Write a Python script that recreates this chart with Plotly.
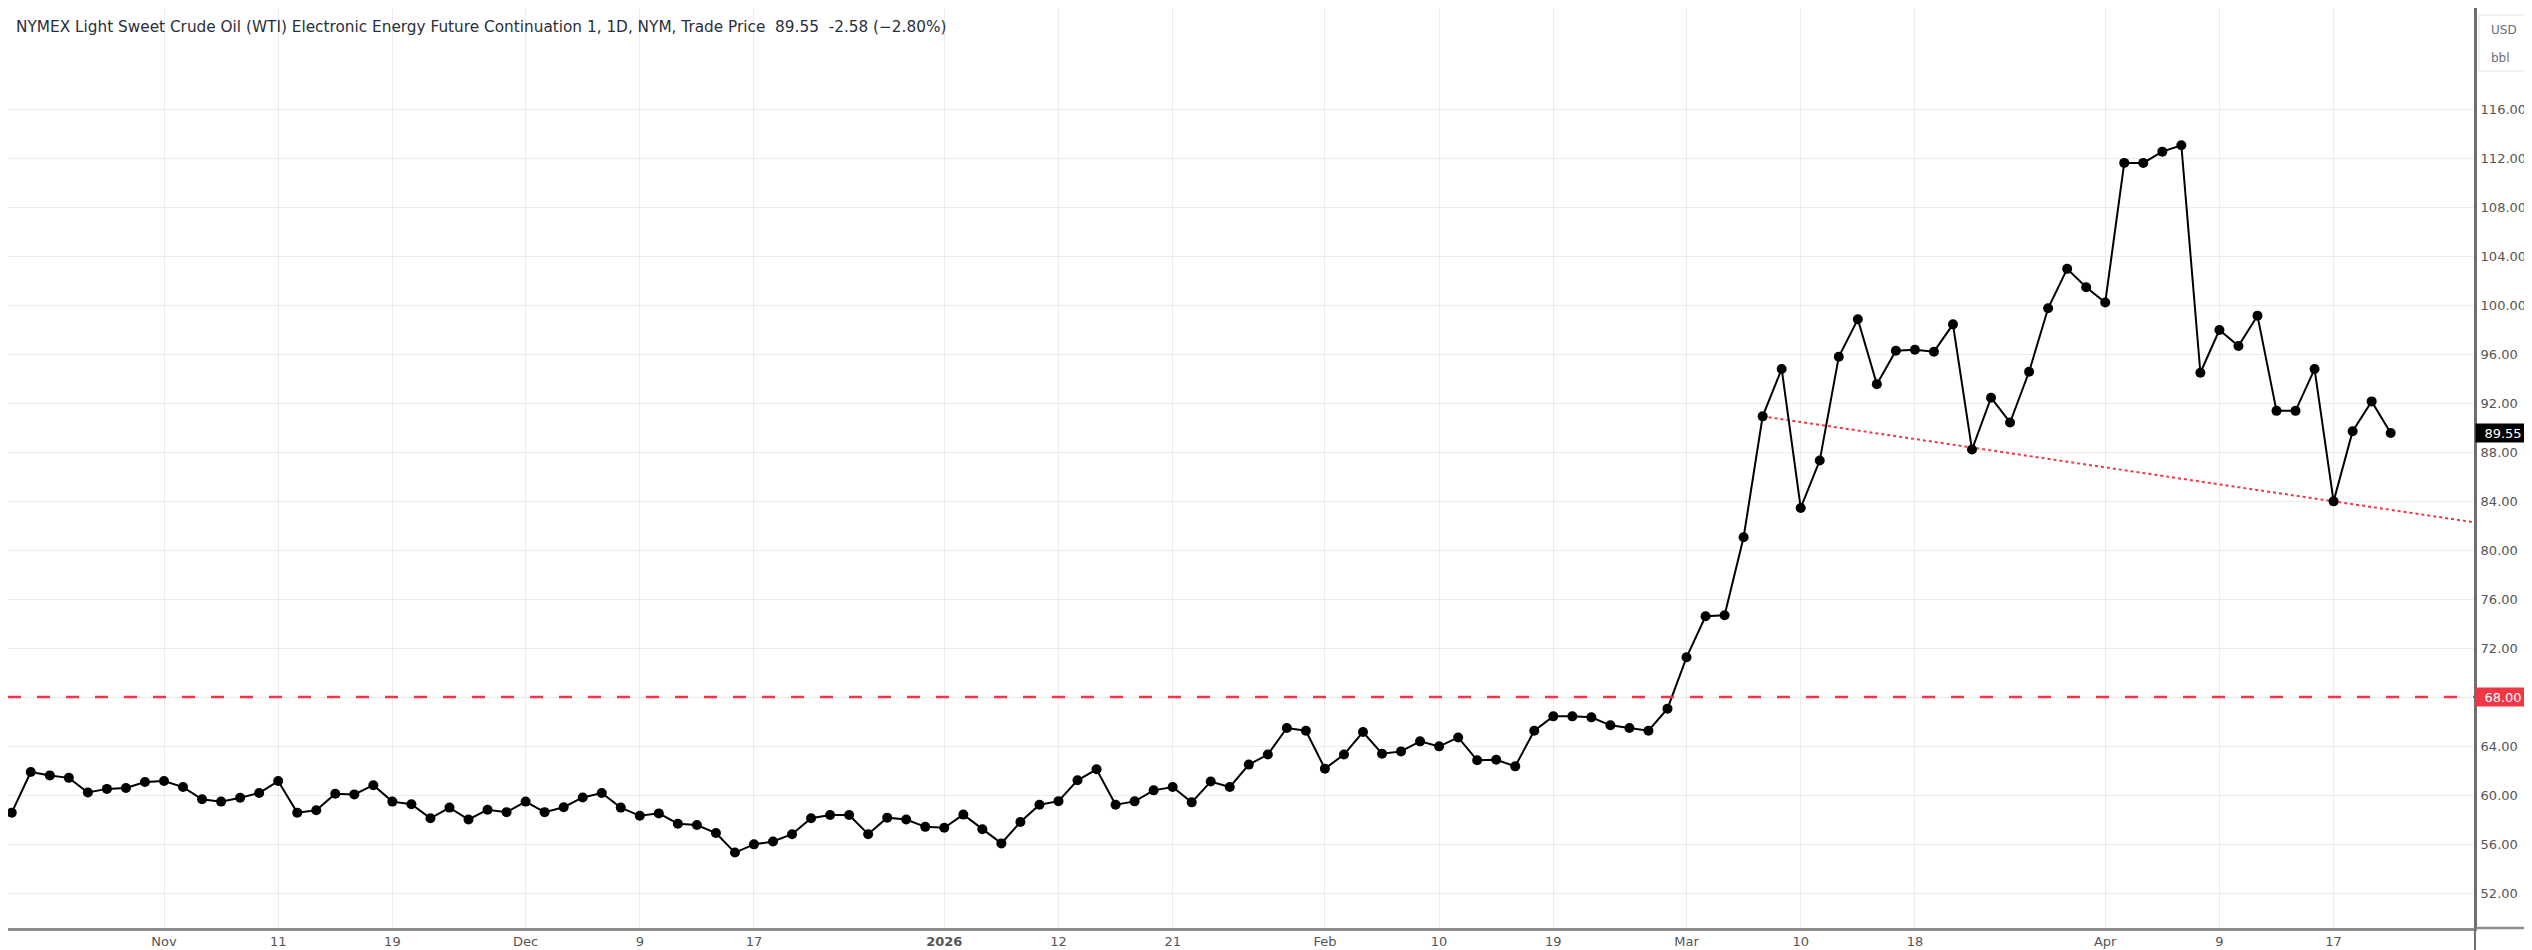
import pandas as pd
import plotly.graph_objects as go

# ---------------- data ----------------
holidays = ["2025-11-27", "2025-12-25", "2026-01-01", "2026-01-19", "2026-02-16"]
dates = [d.strftime("%Y-%m-%d") for d in pd.bdate_range("2025-10-22", "2026-04-22")
         if d.strftime("%Y-%m-%d") not in holidays]

prices = [
    58.56, 61.88, 61.60, 61.40, 60.20, 60.50, 60.57, 61.06, 61.14, 60.65,
    59.65, 59.46, 59.78, 60.16, 61.14, 58.56, 58.75, 60.10, 60.05, 60.80,
    59.46, 59.24, 58.10, 58.97, 58.00, 58.80, 58.60, 59.46, 58.60, 59.00,
    59.80, 60.16, 58.97, 58.30, 58.50, 57.66, 57.55, 56.90, 55.30, 55.97,
    56.20, 56.80, 58.10, 58.37, 58.37, 56.80, 58.15, 58.00, 57.40, 57.33,
    58.40, 57.20, 56.05, 57.80, 59.20, 59.50, 61.20, 62.10, 59.21, 59.48,
    60.38, 60.65, 59.40, 61.10, 60.65, 62.48, 63.30, 65.47, 65.25, 62.15,
    63.30, 65.14, 63.37, 63.56, 64.38, 63.97, 64.70, 62.83, 62.88, 62.34,
    65.25, 66.42, 66.42, 66.34, 65.69, 65.47, 65.25, 67.05, 71.24, 74.59,
    74.67, 81.04, 90.91, 94.78, 83.43, 87.30, 95.78, 98.83, 93.54, 96.27,
    96.35, 96.19, 98.42, 88.20, 92.43, 90.41, 94.55, 99.73, 102.95, 101.45,
    100.20, 111.60, 111.60, 112.52, 113.04, 94.47, 97.96, 96.65, 99.13, 91.36,
    91.36, 94.77, 83.97, 89.70, 92.13, 89.55,
]

tick_dates = ["2025-11-03", "2025-11-11", "2025-11-19", "2025-12-01", "2025-12-09",
              "2025-12-17", "2026-01-02", "2026-01-12", "2026-01-21", "2026-02-02",
              "2026-02-10", "2026-02-19", "2026-03-02", "2026-03-10", "2026-03-18",
              "2026-04-01", "2026-04-09", "2026-04-17"]
tick_labels = ["Nov", "11", "19", "Dec", "9", "17", "<b>2026</b>", "12", "21", "Feb",
               "10", "19", "Mar", "10", "18", "Apr", "9", "17"]

y_ticks = [52, 56, 60, 64, 68, 72, 76, 80, 84, 88, 92, 96, 100, 104, 108, 112, 116]

support_level = 68.00
trend_anchor_dates = ["2026-03-06", "2026-04-17"]
trend_anchor_values = [90.91, 83.97]

last_price = 89.55
title_text = ("NYMEX Light Sweet Crude Oil (WTI) Electronic Energy Future Continuation 1, 1D, NYM, "
              "Trade Price\u00a0\u00a089.55\u00a0\u00a0-2.58 (\u22122.80%)")

# ---------------- layout constants ----------------
W, H = 2532, 950
ML, MR, MT, MB = 0, 65, 0, 30
PW, PH = W - ML - MR, H - MT - MB
x_range = [-0.197, 129.43]
y_range = [49.143, 124.245]
RED = "#f23645"
FONT = "DejaVu Sans"
GRID = "#ebecef"

xi = list(range(len(dates)))
tick_idx = [dates.index(d) for d in tick_dates]

# trend line extended to right edge
t0 = dates.index(trend_anchor_dates[0])
t1 = dates.index(trend_anchor_dates[1])
slope = (trend_anchor_values[1] - trend_anchor_values[0]) / (t1 - t0)
trend_x = [t0, x_range[1]]
trend_y = [trend_anchor_values[0], trend_anchor_values[0] + slope * (x_range[1] - t0)]

fig = go.Figure()
fig.add_trace(go.Scatter(
    x=trend_x, y=trend_y, mode="lines",
    line=dict(color=RED, width=2, dash="dot"), hoverinfo="skip"))
fig.add_trace(go.Scatter(
    x=xi, y=prices, mode="lines+markers",
    line=dict(color="#000000", width=2),
    marker=dict(size=10, color="#000000"),
    text=dates))

shapes = [
    dict(type="line", xref="paper", yref="y", x0=0, x1=1, y0=support_level, y1=support_level,
         line=dict(color=RED, width=2.5, dash="13px,16px"), layer="above"),
    # axis line extensions into margins
    dict(type="line", xref="paper", yref="paper", x0=1, x1=W / PW, y0=0, y1=0,
         line=dict(color="#8c8c8c", width=2.5)),
    dict(type="line", xref="paper", yref="paper", x0=1, x1=1, y0=-MB / PH, y1=1,
         line=dict(color="#6f6f6f", width=2)),
    # USD/bbl box
    dict(type="rect", xref="paper", yref="paper",
         x0=2471 / PW, x1=2530 / PW, y0=1 - 63 / PH, y1=1 - 7 / PH,
         line=dict(color="#e0e3eb", width=1), fillcolor="white"),
]

annotations = [
    dict(text=title_text, xref="paper", yref="paper", x=0, y=1, xanchor="left", yanchor="middle",
         xshift=6, yshift=-19, showarrow=False, font=dict(family=FONT, size=15.3, color="#2a2e39")),
    dict(text="USD", xref="paper", yref="paper", x=1, y=1, xanchor="left", yanchor="middle",
         xshift=14, yshift=-22, showarrow=False, font=dict(family=FONT, size=12, color="#6a6d78")),
    dict(text="bbl", xref="paper", yref="paper", x=1, y=1, xanchor="left", yanchor="middle",
         xshift=14, yshift=-50, showarrow=False, font=dict(family=FONT, size=12, color="#6a6d78")),
    dict(text=f"{last_price:.2f}", xref="paper", yref="y", x=1, y=last_price, xanchor="left",
         yanchor="middle", showarrow=False, bgcolor="#000000", width=52, height=16, borderpad=1,
         font=dict(family=FONT, size=13, color="white")),
    dict(text=f"{support_level:.2f}", xref="paper", yref="y", x=1, y=support_level, xanchor="left",
         yanchor="middle", showarrow=False, bgcolor=RED, width=52, height=16, borderpad=1,
         font=dict(family=FONT, size=13, color="white")),
]

fig.update_layout(
    width=W, height=H,
    margin=dict(l=ML, r=MR, t=MT, b=MB, pad=0),
    paper_bgcolor="white", plot_bgcolor="white",
    showlegend=False,
    shapes=shapes, annotations=annotations,
    xaxis=dict(range=x_range, tickmode="array", tickvals=tick_idx, ticktext=tick_labels,
               showgrid=True, gridcolor=GRID, gridwidth=1, zeroline=False,
               showline=True, linecolor="#8c8c8c", linewidth=2.5, ticks="",
               ticklabelstandoff=0,
               tickfont=dict(family=FONT, size=13, color="#555555")),
    yaxis=dict(range=y_range, side="right", tickmode="array", tickvals=y_ticks,
               tickformat=".2f", showgrid=True, gridcolor=GRID, gridwidth=1,
               zeroline=False, showline=True, linecolor="#6f6f6f", linewidth=2, ticks="",
               ticklabelstandoff=1,
               tickfont=dict(family=FONT, size=13, color="#555555")),
)

fig.write_html("out.html")
